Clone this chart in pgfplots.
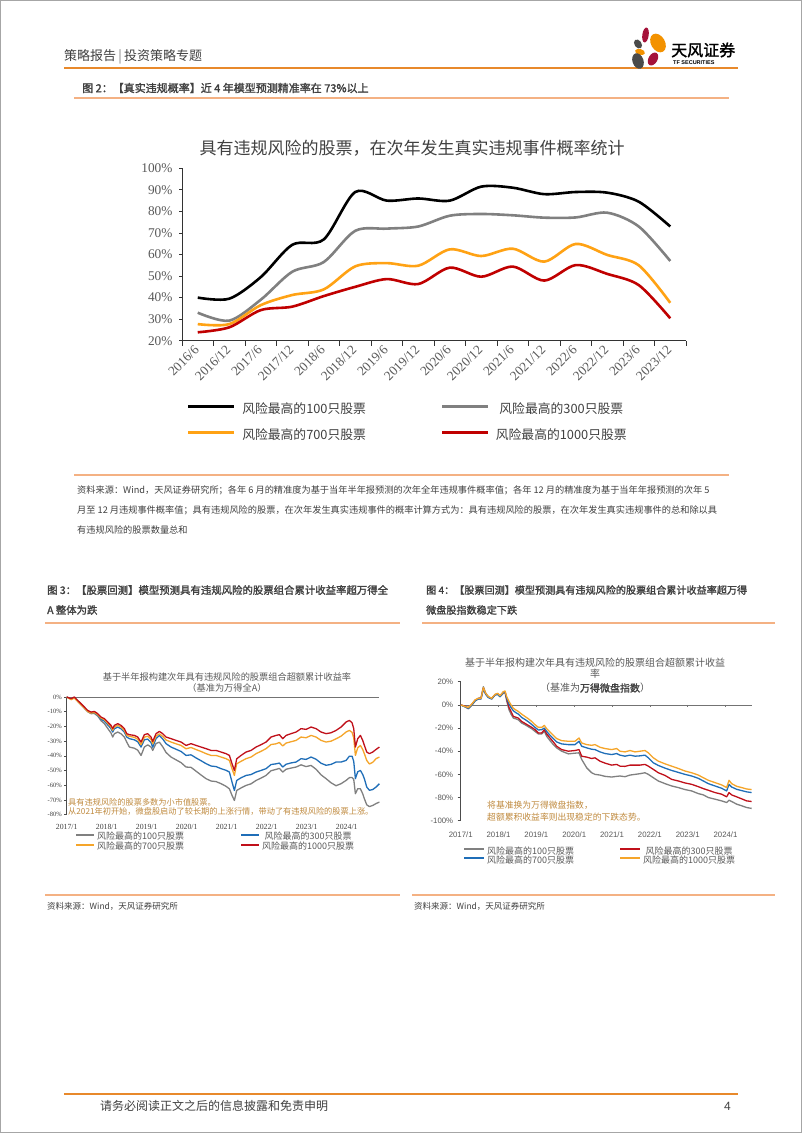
\documentclass[border=0pt]{standalone}
\usepackage{fontspec}
\usepackage{pgfplots}
\pgfplotsset{compat=1.18}
\setmainfont{Liberation Serif}
\newfontfamily\cjk{Noto Sans CJK SC}
\newfontfamily\cjkb{Noto Sans CJK SC}[FakeBold=1.6]
\newfontfamily\arial{Liberation Sans}
\definecolor{hdrorange}{HTML}{E8892B}
\definecolor{lightorange}{HTML}{F4B183}
\definecolor{txt}{HTML}{404040}
\definecolor{axgray}{HTML}{595959}
\definecolor{sgray}{HTML}{808080}
\definecolor{sorange}{HTML}{FFA214}
\definecolor{sred}{HTML}{C00000}
\definecolor{fblue}{HTML}{1F6EB8}
\definecolor{forange}{HTML}{F5A52A}
\definecolor{fred}{HTML}{C0101A}
\definecolor{annot}{HTML}{C08A3E}
\definecolor{logored}{HTML}{A5123A}
\definecolor{logoorange}{HTML}{F39200}
\definecolor{logogray}{HTML}{4A4A4A}
\newcommand{\fs}[1]{\fontsize{#1}{#1}\selectfont}
\begin{document}
\begin{tikzpicture}
\useasboundingbox (0,0) rectangle (802pt,-1133pt);
\fill[white] (0,0) rectangle (802pt,-1133pt);
\draw[gray!70, line width=1pt] (0.5pt,-0.5pt) rectangle (801.5pt,-1132.5pt);
\begin{scope}[x=1pt,y=-1pt]
% header
\node[anchor=west, inner sep=0, text=txt] at (64,57) {\cjk\fs{13}策略报告{\color{gray}\,|\,}投资策略专题};
\draw[hdrorange, line width=2pt] (64,68) -- (738,68);
% logo
\fill[logored, rotate around={-8:(645.5,35)}] (645.5,35) ellipse (3.2 and 7.5);
\fill[logogray, rotate around={35:(638,44)}] (638,44) ellipse (3.5 and 5);
\fill[logoorange, rotate around={30:(658,43)}] (658,43) ellipse (7 and 10);
\fill[logoorange, rotate around={-15:(640,52)}] (640,52) ellipse (5 and 3);
\fill[logored, rotate around={-30:(653,59)}] (653,59) ellipse (4.5 and 7);
\fill[logogray, rotate around={20:(638,61)}] (638,61) ellipse (5.5 and 8);
\node[anchor=west, inner sep=0] at (671,50) {\cjkb\fs{16}天风证券};
\node[anchor=west, inner sep=0] at (673,63) {\arial\bfseries\fs{5.5}TF SECURITIES};
% fig 2 title
\node[anchor=west, inner sep=0, text=txt] at (82,88) {\cjkb\fs{11}图 2：【真实违规概率】近 4 年模型预测精准率在 73\%以上};
\draw[lightorange, line width=1.3pt] (74,98) -- (729,98);
\node[inner sep=0, text=txt] at (412,148) {\cjk\fs{17}具有违规风险的股票，在次年发生真实违规事件概率统计};
% source note
\draw[lightorange, line width=1.5pt] (74,475) -- (729,475);
\node[anchor=west, inner sep=0, text=txt] at (77,490) {\cjk\fs{9.2}资料来源：Wind，天风证券研究所；各年 6 月的精准度为基于当年半年报预测的次年全年违规事件概率值；各年 12 月的精准度为基于当年年报预测的次年 5};
\node[anchor=west, inner sep=0, text=txt] at (77,510) {\cjk\fs{9.2}月至 12 月违规事件概率值；具有违规风险的股票，在次年发生真实违规事件的概率计算方式为：具有违规风险的股票，在次年发生真实违规事件的总和除以具};
\node[anchor=west, inner sep=0, text=txt] at (77,530) {\cjk\fs{9.2}有违规风险的股票数量总和};
% fig 3/4 titles
\node[anchor=west, inner sep=0, text=txt] at (47,590) {\cjkb\fs{10.4}图 3：【股票回测】模型预测具有违规风险的股票组合累计收益率超万得全};
\node[anchor=west, inner sep=0, text=txt] at (47,610) {\cjkb\fs{10.4}A 整体为跌};
\draw[lightorange, line width=1.3pt] (45,623) -- (400,623);
\node[anchor=west, inner sep=0, text=txt] at (426,590) {\cjkb\fs{10.1}图 4：【股票回测】模型预测具有违规风险的股票组合累计收益率超万得};
\node[anchor=west, inner sep=0, text=txt] at (426,610) {\cjkb\fs{10.1}微盘股指数稳定下跌};
\draw[lightorange, line width=1.3pt] (422,623) -- (775,623);
% fig 3 chart title
\node[inner sep=0, text=axgray] at (227,676.7) {\cjk\fs{9.2}基于半年报构建次年具有违规风险的股票组合超额累计收益率};
\node[inner sep=0, text=axgray] at (227,688) {\cjk\fs{9.2}（基准为万得全A）};
% fig 4 chart title
\node[inner sep=0, text=axgray] at (595,662.7) {\cjk\fs{10}基于半年报构建次年具有违规风险的股票组合超额累计收益};
\node[inner sep=0, text=axgray] at (595,674) {\cjk\fs{10}率};
\node[inner sep=0, text=axgray] at (595,688) {\cjk\fs{10}（基准为{\cjkb\color{txt}万得微盘指数}）};
% annotations
\node[anchor=west, inner sep=0, text=annot] at (68,802) {\cjk\fs{8.2}具有违规风险的股票多数为小市值股票。};
\node[anchor=west, inner sep=0, text=annot] at (68,811.5) {\cjk\fs{8.2}从2021年初开始，微盘股启动了较长期的上涨行情，带动了有违规风险的股票上涨。};
\node[anchor=west, inner sep=0, text=annot] at (487,805.7) {\cjk\fs{8.8}将基准换为万得微盘指数，};
\node[anchor=west, inner sep=0, text=annot] at (487,816.7) {\cjk\fs{8.8}超额累积收益率则出现稳定的下跌态势。};
% sources
\draw[lightorange, line width=1.3pt] (45,895) -- (400,895);
\node[anchor=west, inner sep=0, text=txt] at (47,906) {\cjk\fs{8.5}资料来源：Wind，天风证券研究所};
\draw[lightorange, line width=1.3pt] (412,895) -- (775,895);
\node[anchor=west, inner sep=0, text=txt] at (414,906) {\cjk\fs{8.5}资料来源：Wind，天风证券研究所};
% footer
\draw[hdrorange, line width=2pt] (64,1094) -- (738,1094);
\node[anchor=west, inner sep=0, text=txt] at (100,1106) {\cjk\fs{12}请务必阅读正文之后的信息披露和免责申明};
\node[anchor=east, inner sep=0, text=txt] at (731,1106) {\arial\fs{12}4};
\end{scope}

% ===== main chart =====
\begin{axis}[at={(182pt,-340.7pt)}, anchor=south west, scale only axis,
  width=504pt, height=172.4pt,
  xmin=-0.5, xmax=15.5, ymin=20, ymax=100,
  axis lines=left, axis line style={-, draw=black!80, line width=0.8pt},
  tick align=outside,
  ytick={20,30,...,100}, yticklabels={20\%,30\%,40\%,50\%,60\%,70\%,80\%,90\%,100\%},
  major tick length=3pt, minor tick length=5pt,
  tick style={draw=black!80, line width=0.8pt},
  xtick={0,...,15},
  xticklabels={2016/6,2016/12,2017/6,2017/12,2018/6,2018/12,2019/6,2019/12,2020/6,2020/12,2021/6,2021/12,2022/6,2022/12,2023/6,2023/12},
  major x tick style={draw=none},
  minor xtick={-0.5,0.5,...,15.5},
  ticklabel style={font=\fs{13.3}, text=axgray},
  x tick label style={rotate=45, anchor=east, yshift=-2pt},
  y tick label style={xshift=-3pt},
  legend columns=2,
  legend style={at={(0.0099,-0.367)}, anchor=north west, draw=none, fill=none, inner sep=0pt,
    column sep=6.5pt, row sep=14.5pt, font=\cjk\fs{12.8}, text=txt,
    nodes={inner sep=0pt, text height=9pt, text depth=2.5pt}},
  legend image code/.code={\draw[#1] (0pt,3.2pt) -- (46pt,3.2pt);},
  every axis plot/.append style={line width=2.6pt, smooth},
]
\addplot[black] coordinates {(0,40) (1,39.5) (2,49.5) (3,64.5) (4,67) (5,89) (6,85) (7,86) (8,85) (9,91.5) (10,91) (11,88) (12,89) (13,88.7) (14,84.5) (15,73)};
\addlegendentry{\makebox[192pt][l]{风险最高的100只股票}}
\addplot[sgray] coordinates {(0,33) (1,29.3) (2,39) (3,52) (4,56.5) (5,71) (6,72) (7,73) (8,78) (9,78.8) (10,78.2) (11,77.1) (12,77.2) (13,79.4) (14,73) (15,57)};
\addlegendentry{风险最高的300只股票}
\addplot[sorange] coordinates {(0,27.7) (1,27.7) (2,36.5) (3,41.2) (4,43.8) (5,54.5) (6,56) (7,54.8) (8,62.4) (9,59.3) (10,62.7) (11,56.7) (12,64.9) (13,59.8) (14,55) (15,37.6)};
\addlegendentry{\makebox[192pt][l]{风险最高的700只股票}}
\addplot[sred] coordinates {(0,23.9) (1,26.2) (2,34.2) (3,35.8) (4,40.7) (5,45) (6,48.6) (7,46.3) (8,53.9) (9,49.7) (10,54.4) (11,47.9) (12,55.1) (13,51) (14,45.8) (15,30.4)};
\addlegendentry{风险最高的1000只股票}
\end{axis}

% ===== fig 3 chart =====
\begin{axis}[at={(66.7pt,-814.7pt)}, anchor=south west, scale only axis,
  width=312.7pt, height=117.7pt,
  xmin=0, xmax=93.8, ymin=-80, ymax=0, clip=false,
  axis x line=bottom, axis y line=left,
  x axis line style={draw=none}, y axis line style={-, draw=black!70, line width=0.6pt},
  tick align=outside, major tick length=2.5pt,
  ytick={-80,-70,...,0}, yticklabels={-80\%,-70\%,-60\%,-50\%,-40\%,-30\%,-20\%,-10\%,0\%},
  y tick style={draw=black!70, line width=0.6pt},
  xtick={0,12,...,84}, xticklabels={2017/1,2018/1,2019/1,2020/1,2021/1,2022/1,2023/1,2024/1},
  x tick style={draw=none},
  y tick label style={font=\fs{6.5}, text=txt, xshift=1pt},
  x tick label style={font=\fs{7.8}, text=txt, yshift=-4pt},
  legend columns=2,
  legend style={at={(0.0265,-0.150)}, anchor=north west, draw=none, fill=none, inner sep=0pt,
    column sep=2pt, row sep=1pt, font=\cjk\fs{9}, text=axgray,
    nodes={inner sep=0pt, text height=7pt, text depth=2pt}},
  legend image code/.code={\draw[#1, line width=2pt] (0pt,2.5pt) -- (18pt,2.5pt);},
  every axis plot/.append style={line width=1.3pt, line join=round},
]
\draw[black!55, line width=0.6pt] (axis cs:0,0) -- (axis cs:93.8,0);
\addplot[sgray] coordinates {(0,0) (1.3,-1.3) (2.3,-0.4) (3.3,-2.9) (4.3,-5.2) (5.3,-7.6) (6.3,-10.0) (7.3,-11.3) (8.3,-11.2) (9.3,-12.9) (10.3,-16.1) (11.3,-18.1) (12.3,-21.3) (13.3,-24.5) (13.8,-27.2) (14.3,-25.0) (15.3,-23.8) (16.3,-25.0) (17.3,-27.2) (18.0,-30.6) (18.8,-34.0) (20.3,-34.8) (21.3,-36.1) (22.3,-39.7) (23.3,-34.0) (24.3,-32.5) (25.3,-34.0) (25.8,-36.3) (26.8,-31.6) (27.8,-30.7) (28.8,-33.8) (29.8,-37.7) (31.3,-40.8) (32.8,-42.7) (34.3,-44.6) (35.8,-47.6) (37.3,-47.8) (38.8,-50.4) (40.3,-53.0) (41.8,-55.5) (43.3,-57.1) (44.8,-57.5) (46.3,-58.9) (47.8,-60.7) (48.8,-62.4) (49.6,-66.9) (50.3,-70.3) (51.0,-63.5) (52.3,-61.8) (53.8,-60.1) (55.3,-59.0) (56.8,-56.7) (58.3,-55.1) (59.8,-53.3) (61.3,-50.1) (62.8,-49.2) (63.8,-48.5) (64.8,-51.0) (65.8,-49.1) (67.3,-48.3) (68.8,-47.6) (70.3,-46.1) (71.8,-47.3) (73.3,-46.5) (74.8,-49.1) (76.3,-52.9) (77.8,-55.5) (79.3,-58.3) (80.8,-60.3) (82.3,-58.9) (83.8,-56.7) (84.8,-54.8) (85.6,-54.7) (86.1,-56.0) (86.6,-65.7) (87.3,-62.3) (88.1,-62.4) (88.8,-65.8) (89.3,-69.2) (90.0,-73.3) (90.8,-74.5) (91.8,-73.7) (92.8,-72.4) (93.8,-71.4)};
\addlegendentry{\makebox[141pt][l]{风险最高的100只股票}}
\addplot[fblue] coordinates {(0,0) (1.3,-1.3) (2.3,-0.3) (3.3,-2.7) (4.3,-5.0) (5.3,-7.3) (6.3,-9.6) (7.3,-10.8) (8.3,-10.5) (9.3,-12.5) (10.3,-15.0) (11.3,-16.4) (12.3,-18.9) (13.3,-21.5) (13.8,-23.8) (14.3,-21.6) (15.3,-20.4) (16.3,-21.6) (17.3,-23.8) (18.0,-27.2) (18.8,-28.3) (20.3,-29.1) (21.3,-30.4) (22.3,-34.0) (23.3,-29.1) (24.3,-28.6) (25.3,-31.0) (25.8,-34.1) (26.8,-28.2) (27.8,-26.1) (28.8,-28.5) (29.8,-31.7) (31.3,-34.0) (32.8,-35.5) (34.3,-37.0) (35.8,-39.7) (37.3,-39.3) (38.8,-41.4) (40.3,-43.3) (41.8,-45.3) (43.3,-46.9) (44.8,-47.3) (46.3,-48.7) (47.8,-49.8) (48.8,-51.0) (49.6,-57.9) (50.3,-63.5) (51.0,-56.7) (52.3,-54.9) (53.8,-53.3) (55.3,-52.7) (56.8,-51.0) (58.3,-49.9) (59.8,-48.7) (61.3,-45.9) (62.8,-45.4) (63.8,-44.9) (64.8,-47.6) (65.8,-45.7) (67.3,-44.8) (68.8,-44.2) (70.3,-41.9) (71.8,-42.4) (73.3,-40.8) (74.8,-42.3) (76.3,-45.0) (77.8,-46.4) (79.3,-45.8) (80.8,-44.2) (82.3,-44.2) (83.8,-43.1) (84.8,-40.2) (85.6,-40.2) (86.1,-43.8) (86.6,-55.5) (87.3,-50.8) (88.1,-49.9) (88.8,-52.7) (89.3,-55.6) (90.0,-61.2) (90.8,-63.4) (91.8,-62.9) (92.8,-61.2) (93.8,-58.9)};
\addlegendentry{风险最高的300只股票}
\addplot[forange] coordinates {(0,0) (1.3,-1.8) (2.3,-0.7) (3.3,-3.0) (4.3,-5.2) (5.3,-7.5) (6.3,-9.8) (7.3,-10.9) (8.3,-10.5) (9.3,-12.0) (10.3,-14.3) (11.3,-15.4) (12.3,-17.8) (13.3,-20.3) (13.8,-22.6) (14.3,-20.4) (15.3,-19.2) (16.3,-20.4) (17.3,-22.6) (18.0,-26.0) (18.8,-26.7) (20.3,-27.4) (21.3,-28.7) (22.3,-32.4) (23.3,-27.3) (24.3,-26.6) (25.3,-28.8) (25.8,-31.8) (26.8,-26.5) (27.8,-25.0) (28.8,-26.7) (29.8,-29.2) (31.3,-30.6) (32.8,-31.8) (34.3,-32.9) (35.8,-35.2) (37.3,-34.3) (38.8,-35.7) (40.3,-37.0) (41.8,-38.5) (43.3,-39.7) (44.8,-39.7) (46.3,-40.8) (47.8,-41.9) (48.8,-43.1) (49.6,-48.8) (50.3,-53.3) (51.0,-45.4) (52.3,-43.7) (53.8,-41.9) (55.3,-40.8) (56.8,-38.5) (58.3,-36.9) (59.8,-35.1) (61.3,-32.3) (62.8,-31.8) (63.8,-30.9) (64.8,-33.3) (65.8,-31.3) (67.3,-30.4) (68.8,-29.5) (70.3,-27.2) (71.8,-27.7) (73.3,-26.1) (74.8,-27.2) (76.3,-29.5) (77.8,-30.6) (79.3,-30.0) (80.8,-28.4) (82.3,-26.6) (83.8,-23.8) (84.8,-22.7) (85.6,-24.0) (86.1,-27.8) (86.6,-39.7) (87.3,-34.5) (88.1,-32.9) (88.8,-35.7) (89.3,-38.6) (90.0,-43.1) (90.8,-45.5) (91.8,-44.4) (92.8,-41.9) (93.8,-40.8)};
\addlegendentry{\makebox[141pt][l]{风险最高的700只股票}}
\addplot[fred] coordinates {(0,0) (1.3,-1.1) (2.3,0) (3.3,-2.3) (4.3,-4.5) (5.3,-6.8) (6.3,-9.1) (7.3,-10.2) (8.3,-9.8) (9.3,-11.3) (10.3,-13.6) (11.3,-14.7) (12.3,-17.0) (13.3,-19.3) (13.8,-21.5) (14.3,-19.3) (15.3,-18.1) (16.3,-19.3) (17.3,-21.5) (18.0,-24.9) (18.8,-25.6) (20.3,-26.1) (21.3,-27.2) (22.3,-30.6) (23.3,-25.6) (24.3,-24.9) (25.3,-27.2) (25.8,-30.2) (26.8,-24.9) (27.8,-23.4) (28.8,-24.9) (29.8,-27.2) (31.3,-28.3) (32.8,-29.5) (34.3,-30.6) (35.8,-32.9) (37.3,-31.7) (38.8,-32.9) (40.3,-34.0) (41.8,-35.1) (43.3,-36.3) (44.8,-36.3) (46.3,-37.4) (47.8,-38.5) (48.8,-39.7) (49.6,-45.4) (50.3,-49.9) (51.0,-42.0) (52.3,-39.7) (53.8,-37.4) (55.3,-36.3) (56.8,-34.0) (58.3,-32.4) (59.8,-30.6) (61.3,-27.2) (62.8,-26.1) (63.8,-25.6) (64.8,-28.3) (65.8,-26.1) (67.3,-24.9) (68.8,-23.8) (70.3,-21.5) (71.8,-22.0) (73.3,-20.4) (74.8,-21.5) (76.3,-23.8) (77.8,-24.9) (79.3,-24.3) (80.8,-22.7) (82.3,-20.4) (83.8,-17.0) (84.8,-15.9) (85.6,-17.5) (86.1,-21.5) (86.6,-34.0) (87.3,-28.3) (88.1,-26.1) (88.8,-29.5) (89.3,-32.9) (90.0,-37.4) (90.8,-38.5) (91.8,-37.4) (92.8,-35.6) (93.8,-34.0)};
\addlegendentry{风险最高的1000只股票}
\end{axis}

% ===== fig 4 chart =====
\begin{axis}[at={(460.7pt,-820.7pt)}, anchor=south west, scale only axis,
  width=291pt, height=139pt,
  xmin=0, xmax=92.3, ymin=-100, ymax=20, clip=false,
  axis x line=bottom, axis y line=left,
  x axis line style={draw=none}, y axis line style={-, draw=black!70, line width=0.6pt},
  tick align=outside, major tick length=3pt,
  ytick={-100,-80,...,20}, yticklabels={-100\%,-80\%,-60\%,-40\%,-20\%,0\%,20\%},
  y tick style={draw=black!70, line width=0.6pt},
  xtick={0,12,...,84}, xticklabels={2017/1,2018/1,2019/1,2020/1,2021/1,2022/1,2023/1,2024/1},
  x tick style={draw=none},
  ticklabel style={font=\arial\fs{7.8}, text=axgray},
  y tick label style={xshift=-1pt},
  x tick label style={yshift=-5pt},
  legend columns=2,
  legend style={at={(0.0079,-0.191)}, anchor=north west, draw=none, fill=none, inner sep=0pt,
    column sep=2pt, row sep=0.7pt, font=\cjk\fs{9}, text=axgray,
    nodes={inner sep=0pt, text height=6.8pt, text depth=1.8pt}},
  legend image code/.code={\draw[#1, line width=2pt] (0pt,2.6pt) -- (20pt,2.6pt);},
  every axis plot/.append style={line width=1.3pt, line join=round},
]
\draw[black!55, line width=0.6pt] (axis cs:0,0) -- (axis cs:92.3,0);
\pgfplotsinvokeforeach{12,24,36,48,60,72,84}{\draw[black!55, line width=0.6pt] (axis cs:#1,0) -- ++(0pt,-2.5pt);}
\addplot[sgray] coordinates {(0,0) (1.37,-1.7) (2.43,-3.4) (3.49,-0.6) (4.55,3.4) (5.60,5.7) (6.45,6.3) (7.19,15.7) (7.93,10.0) (8.77,7.1) (9.83,5.1) (10.89,8.6) (11.73,9.1) (12.47,7.1) (13.53,10.0) (14.06,10.9) (14.59,3.4) (15.33,-4.3) (15.96,-8.0) (16.70,-11.4) (17.44,-12.0) (18.29,-12.9) (19.34,-15.7) (20.40,-17.1) (21.46,-18.9) (22.52,-20.6) (23.57,-22.9) (24.63,-25.1) (25.69,-25.1) (26.53,-22.9) (27.27,-27.1) (28.33,-30.9) (29.39,-34.3) (30.44,-37.1) (32.03,-40.0) (34.14,-42.3) (36.26,-41.7) (37.53,-41.4) (38.37,-47.1) (39.96,-54.3) (41.54,-58.6) (42.60,-60.0) (44.19,-60.6) (45.77,-61.7) (47.89,-62.3) (49.47,-61.7) (50.53,-61.4) (52.11,-62.0) (53.70,-60.6) (55.29,-60.0) (56.87,-59.4) (58.46,-58.6) (59.51,-60.0) (61.10,-62.9) (62.68,-65.7) (64.80,-68.0) (66.91,-70.0) (69.03,-71.4) (71.14,-73.1) (73.26,-74.3) (75.37,-76.6) (76.96,-77.7) (78.54,-80.0) (80.66,-81.4) (82.77,-82.9) (84.36,-84.3) (85.10,-82.3) (85.94,-83.4) (87.53,-85.7) (89.11,-87.1) (90.70,-88.6) (92.28,-89.4)};
\addlegendentry{\makebox[130pt][l]{风险最高的100只股票}}
\addplot[fred] coordinates {(0,0) (1.37,-1.1) (2.43,-2.6) (3.49,0.3) (4.55,4.0) (5.60,5.4) (6.45,5.4) (7.19,14.3) (7.93,9.4) (8.77,6.6) (9.83,5.4) (10.89,8.9) (11.73,9.7) (12.47,7.7) (13.53,11.1) (14.06,11.4) (14.59,5.1) (15.33,-2.3) (15.96,-5.7) (16.70,-10.0) (17.44,-10.6) (18.29,-11.4) (19.34,-14.3) (20.40,-16.0) (21.46,-17.7) (22.52,-19.4) (23.57,-21.4) (24.63,-24.3) (25.69,-24.3) (26.53,-21.4) (27.27,-25.1) (28.33,-28.6) (29.39,-32.0) (30.44,-35.7) (32.03,-38.6) (34.14,-40.0) (36.26,-39.4) (37.53,-38.6) (38.37,-44.3) (39.96,-45.1) (41.54,-46.3) (42.60,-45.7) (44.19,-48.6) (45.77,-50.3) (47.89,-52.0) (49.47,-51.4) (50.53,-52.9) (52.11,-53.1) (53.70,-52.0) (55.29,-52.0) (56.87,-52.0) (58.46,-51.4) (59.51,-52.9) (61.10,-55.7) (62.68,-58.6) (64.80,-60.9) (66.91,-64.3) (69.03,-65.7) (71.14,-67.4) (73.26,-68.6) (75.37,-70.6) (76.96,-72.3) (78.54,-73.7) (80.66,-75.7) (82.77,-77.1) (84.36,-79.4) (85.10,-75.7) (85.94,-77.7) (87.53,-79.4) (89.11,-81.1) (90.70,-82.9) (92.28,-83.4)};
\addlegendentry{风险最高的300只股票}
\addplot[fblue] coordinates {(0,0) (1.37,-1.7) (2.43,-2.9) (3.49,0) (4.55,3.4) (5.60,5.1) (6.45,5.1) (7.19,13.7) (7.93,9.1) (8.77,6.3) (9.83,5.1) (10.89,8.6) (11.73,9.1) (12.47,7.1) (13.53,10.9) (14.06,11.4) (14.59,5.7) (15.33,0.6) (15.96,-2.3) (16.70,-5.1) (17.44,-6.6) (18.29,-8.0) (19.34,-10.9) (20.40,-12.6) (21.46,-14.6) (22.52,-16.9) (23.57,-19.4) (24.63,-21.7) (25.69,-21.4) (26.53,-20.0) (27.27,-22.9) (28.33,-26.3) (29.39,-29.1) (30.44,-32.0) (32.03,-33.7) (34.14,-34.3) (36.26,-34.3) (37.53,-31.4) (38.37,-35.7) (39.96,-37.1) (41.54,-38.3) (42.60,-38.6) (44.19,-40.6) (45.77,-42.0) (47.89,-42.9) (49.47,-42.0) (50.53,-43.4) (52.11,-44.3) (53.70,-43.4) (55.29,-44.3) (56.87,-44.0) (58.46,-43.4) (59.51,-45.7) (61.10,-50.0) (62.68,-52.3) (64.80,-54.6) (66.91,-56.6) (69.03,-58.3) (71.14,-60.0) (73.26,-61.4) (75.37,-63.4) (76.96,-65.7) (78.54,-68.0) (80.66,-70.0) (82.77,-72.0) (84.36,-74.3) (85.10,-68.6) (85.94,-70.9) (87.53,-72.9) (89.11,-74.0) (90.70,-75.1) (92.28,-75.7)};
\addlegendentry{\makebox[130pt][l]{风险最高的700只股票}}
\addplot[forange] coordinates {(0,0) (1.37,-1.4) (2.43,-2.3) (3.49,0.6) (4.55,4.3) (5.60,5.7) (6.45,5.7) (7.19,14.9) (7.93,10.0) (8.77,7.1) (9.83,5.7) (10.89,9.1) (11.73,10.0) (12.47,8.0) (13.53,11.4) (14.06,12.0) (14.59,7.1) (15.33,2.9) (15.96,0) (16.70,-2.9) (17.44,-4.3) (18.29,-5.7) (19.34,-8.0) (20.40,-10.0) (21.46,-12.0) (22.52,-14.3) (23.57,-17.1) (24.63,-19.4) (25.69,-19.4) (26.53,-17.7) (27.27,-20.6) (28.33,-23.4) (29.39,-26.3) (30.44,-29.1) (32.03,-30.9) (34.14,-31.4) (36.26,-31.4) (37.53,-28.6) (38.37,-32.9) (39.96,-34.3) (41.54,-34.9) (42.60,-34.3) (44.19,-36.6) (45.77,-37.7) (47.89,-38.6) (49.47,-37.7) (50.53,-40.0) (52.11,-40.6) (53.70,-39.4) (55.29,-40.6) (56.87,-40.0) (58.46,-39.4) (59.51,-41.4) (61.10,-45.7) (62.68,-48.6) (64.80,-50.9) (66.91,-52.9) (69.03,-54.9) (71.14,-57.1) (73.26,-58.6) (75.37,-60.6) (76.96,-62.9) (78.54,-65.1) (80.66,-67.1) (82.77,-69.1) (84.36,-71.4) (85.10,-65.1) (85.94,-68.0) (87.53,-70.3) (89.11,-71.4) (90.70,-72.6) (92.28,-73.1)};
\addlegendentry{风险最高的1000只股票}
\end{axis}
\end{tikzpicture}
\end{document}
